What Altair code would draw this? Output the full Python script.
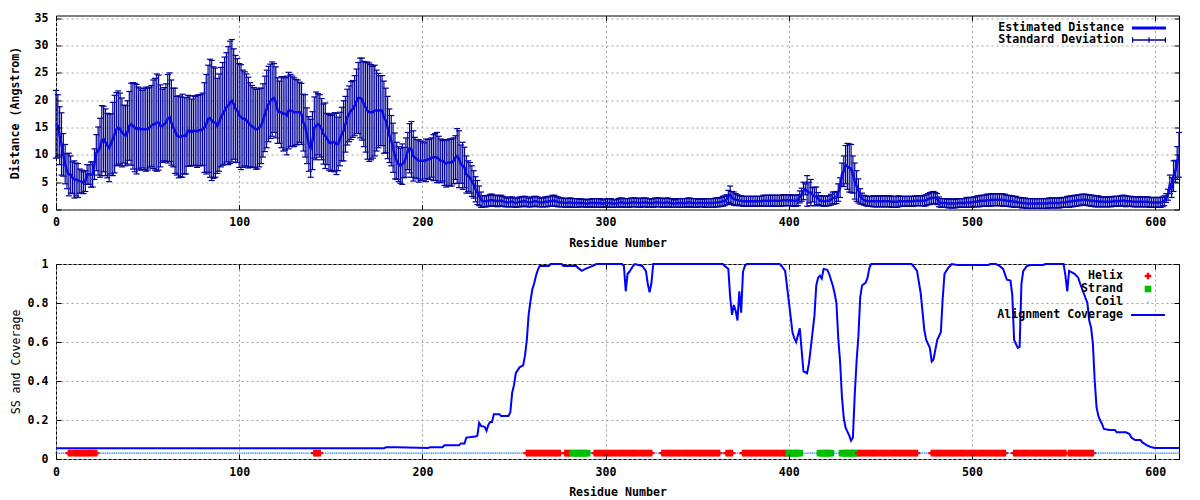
import altair as alt
import pandas as pd

# ---------------- data ----------------
residue = list(range(0, 614))

mean_distance = [
    15.6, 15.3, 13.5, 12.0, 10.0, 8.3, 7.0, 6.4, 6.4, 5.8,
    5.5, 5.5, 5.3, 5.2, 5.1, 4.9, 5.2, 6.4, 6.4, 6.4,
    6.4, 8.3, 10.4, 10.7, 11.3, 12.6, 12.9, 12.3, 11.7, 11.3,
    12.0, 12.9, 13.8, 14.7, 15.0, 14.7, 14.1, 13.8, 13.5, 14.1,
    15.3, 15.6, 15.3, 15.0, 14.7, 14.9, 14.7, 14.7, 14.7, 14.7,
    14.7, 15.0, 15.3, 15.6, 15.6, 15.9, 15.9, 15.3, 15.3, 15.6,
    15.9, 16.6, 16.9, 15.9, 15.0, 14.4, 13.5, 13.3, 13.3, 13.5,
    13.5, 13.5, 14.4, 14.4, 14.1, 14.4, 14.4, 14.3, 14.5, 14.5,
    14.7, 15.0, 15.6, 16.6, 16.7, 16.3, 15.9, 15.9, 15.3, 15.9,
    16.9, 17.5, 18.1, 18.7, 19.0, 19.6, 19.9, 19.3, 18.4, 18.1,
    17.2, 16.9, 16.6, 16.6, 16.3, 15.9, 15.5, 15.2, 15.0, 14.7,
    14.7, 15.0, 15.3, 16.3, 17.5, 18.4, 19.3, 19.8, 20.2, 20.4,
    19.6, 18.1, 17.8, 17.8, 17.5, 17.5, 17.2, 18.1, 18.1, 18.0,
    17.8, 17.8, 17.8, 17.8, 17.5, 15.9, 15.3, 13.5, 12.0, 11.2,
    12.6, 15.0, 15.3, 15.6, 15.3, 14.7, 13.8, 13.5, 12.9, 12.3,
    12.1, 12.3, 12.3, 12.0, 12.0, 12.9, 13.8, 14.4, 15.6, 16.9,
    17.5, 18.1, 18.4, 19.0, 19.8, 20.4, 20.4, 20.2, 19.3, 18.7,
    18.1, 17.8, 17.8, 17.8, 18.1, 18.1, 18.1, 18.1, 18.1, 16.9,
    16.3, 15.0, 13.5, 12.6, 11.3, 9.8, 8.9, 8.3, 8.0, 8.3,
    8.6, 9.5, 10.7, 11.2, 11.0, 9.8, 9.5, 9.2, 8.9, 8.9,
    8.9, 8.9, 9.0, 9.2, 9.2, 9.5, 9.5, 9.6, 9.5, 9.2,
    8.9, 8.9, 8.6, 8.4, 8.6, 8.6, 8.6, 8.9, 9.5, 9.8,
    9.2, 8.3, 8.0, 7.7, 6.4, 6.1, 5.8, 5.2, 4.6, 3.7,
    3.1, 2.5, 1.8, 1.5, 1.5,
    1.5, 1.6, 1.7, 1.7, 1.6, 1.6, 1.5, 1.6, 1.6, 1.5,
    1.4, 1.3, 1.3, 1.4, 1.4, 1.3, 1.2, 1.3, 1.4, 1.4,
    1.5, 1.5, 1.4, 1.3, 1.3, 1.4, 1.5, 1.5, 1.4, 1.3,
    1.3, 1.3, 1.4, 1.4, 1.5, 1.5, 1.6, 1.6, 1.5, 1.4,
    1.3, 1.3, 1.3, 1.2, 1.2, 1.3, 1.3, 1.2, 1.2, 1.2,
    1.2, 1.2, 1.2, 1.2, 1.1, 1.1, 1.2, 1.2, 1.2, 1.2,
    1.2, 1.2, 1.2, 1.1, 1.1, 1.2, 1.2, 1.2, 1.2, 1.1,
    1.1, 1.1, 1.2, 1.3, 1.3, 1.2, 1.2, 1.2, 1.2, 1.3,
    1.3, 1.3, 1.3, 1.2, 1.2, 1.3, 1.3, 1.3, 1.2, 1.2,
    1.2, 1.2, 1.3, 1.3, 1.3, 1.3, 1.2, 1.2, 1.3, 1.3,
    1.2, 1.2, 1.1, 1.1, 1.2, 1.2, 1.2, 1.2, 1.2, 1.2,
    1.3, 1.3, 1.2, 1.2, 1.2, 1.2, 1.2, 1.2, 1.2, 1.2,
    1.2, 1.2, 1.2, 1.2, 1.2, 1.3, 1.3, 1.3, 1.4, 1.5,
    1.6, 1.8, 2.4, 2.7, 2.1, 2.0, 1.8, 1.8, 1.6, 1.6,
    1.5, 1.5, 1.5, 1.5, 1.5, 1.5, 1.5, 1.5, 1.5, 1.5,
    1.5, 1.6, 1.6, 1.6, 1.6, 1.6, 1.6, 1.6, 1.6, 1.6,
    1.6, 1.6, 1.7, 1.7, 1.7, 1.7, 1.7, 1.6, 1.6, 1.6,
    1.7, 2.3, 2.7, 3.4, 3.7, 3.4, 3.1, 3.1, 2.7, 2.4,
    2.4, 2.0, 1.6, 1.6, 1.5, 1.5, 1.6, 1.6, 1.8, 2.1,
    2.1, 2.2, 3.1, 4.0, 6.4, 7.0, 8.2, 7.9, 7.6, 7.5,
    6.4, 5.2, 4.3, 3.4, 2.4, 2.0, 1.7, 1.6, 1.5, 1.5,
    1.5, 1.5, 1.5, 1.5, 1.5, 1.5, 1.5, 1.5, 1.5, 1.5,
    1.5, 1.4, 1.4, 1.4, 1.4, 1.5, 1.5, 1.5, 1.5, 1.5,
    1.5, 1.5, 1.5, 1.5, 1.6, 1.6, 1.6, 1.6, 1.6, 1.6,
    1.7, 1.9, 2.0, 2.1, 2.2, 2.1, 1.9, 1.4, 1.2, 1.2,
    1.2, 1.2, 1.1, 1.1, 1.1, 1.1, 1.1, 1.2, 1.2, 1.2,
    1.2, 1.2, 1.3, 1.3, 1.3, 1.3, 1.4, 1.4, 1.5, 1.5,
    1.6, 1.6, 1.6, 1.7, 1.7, 1.7, 1.8, 1.8, 1.8, 1.8,
    1.8, 1.8, 1.7, 1.7, 1.6, 1.6, 1.5, 1.5, 1.4, 1.4,
    1.3, 1.3, 1.2, 1.2, 1.2, 1.1, 1.1, 1.1, 1.1, 1.1,
    1.1, 1.1, 1.1, 1.1, 1.1, 1.1, 1.1, 1.2, 1.2, 1.2,
    1.2, 1.2, 1.2, 1.2, 1.3, 1.3, 1.3, 1.4, 1.4, 1.5,
    1.5, 1.6, 1.6, 1.7, 1.7, 1.8, 1.8, 1.8, 1.7, 1.7,
    1.6, 1.6, 1.5, 1.5, 1.5, 1.4, 1.4, 1.4, 1.4, 1.4,
    1.4, 1.4, 1.5, 1.5, 1.5, 1.5, 1.6, 1.6, 1.6, 1.5,
    1.5, 1.5, 1.5, 1.4, 1.4, 1.4, 1.4, 1.4, 1.4, 1.4,
    1.4, 1.4, 1.3, 1.3, 1.3, 1.3, 1.3, 1.3, 1.3, 1.4,
    1.6, 2.1, 2.7, 4.6, 4.0, 6.1, 7.0, 8.5, 10.0,
]

std_deviation = [
    6.2, 5.7, 5.3, 5.7, 3.9, 3.6, 3.2, 3.9, 3.4, 2.9,
    3.4, 3.0, 3.1, 2.2, 2.1, 2.0, 1.9, 1.8, 1.8, 2.3,
    2.3, 2.8, 3.3, 4.4, 5.4, 6.4, 6.0, 6.1, 5.9, 6.2,
    5.5, 6.7, 7.1, 6.7, 6.7, 6.6, 6.3, 5.3, 5.5, 5.8,
    6.3, 7.5, 7.9, 8.1, 8.2, 7.5, 7.5, 7.1, 7.4, 7.7,
    7.5, 7.4, 7.4, 8.1, 8.4, 8.9, 8.7, 7.5, 6.7, 6.7,
    7.1, 8.1, 8.1, 7.8, 7.2, 7.8, 7.2, 7.5, 7.3, 7.6,
    7.0, 7.0, 6.5, 6.4, 6.1, 6.4, 6.3, 6.6, 6.5, 6.5,
    6.6, 8.2, 9.1, 9.8, 10.8, 11.0, 10.2, 10.0, 8.7, 8.9,
    9.1, 9.4, 9.8, 10.0, 10.8, 11.2, 11.2, 10.1, 9.8, 9.5,
    9.5, 9.6, 8.9, 8.6, 8.5, 8.3, 7.7, 7.5, 7.3, 7.3,
    7.3, 7.2, 6.9, 6.7, 6.9, 7.1, 6.9, 6.8, 6.8, 6.3,
    6.5, 6.0, 5.7, 6.5, 6.8, 6.6, 7.2, 7.0, 6.6, 6.4,
    6.3, 6.0, 5.9, 5.5, 5.6, 5.2, 5.7, 5.1, 5.0, 5.3,
    5.3, 5.6, 6.2, 5.6, 5.7, 5.6, 5.5, 6.0, 4.7, 5.1,
    5.1, 5.2, 5.4, 5.6, 4.9, 4.9, 4.9, 5.5, 5.1, 5.1,
    5.1, 5.3, 5.2, 5.5, 5.9, 6.5, 7.3, 7.5, 7.8, 8.2,
    8.9, 9.0, 8.7, 8.4, 8.3, 7.4, 6.8, 6.4, 6.4, 6.6,
    5.9, 5.7, 4.9, 4.6, 4.5, 4.2, 3.4, 3.2, 3.2, 3.7,
    2.8, 3.6, 3.4, 4.5, 5.1, 4.6, 3.7, 3.6, 3.9, 3.6,
    3.6, 3.3, 3.9, 3.6, 3.7, 3.6, 4.2, 4.3, 4.6, 4.2,
    4.0, 3.7, 4.2, 4.3, 4.2, 4.3, 4.3, 4.2, 4.0, 5.0,
    5.2, 3.5, 4.3, 3.7, 3.4, 2.8, 2.8, 2.8, 2.5, 2.3,
    2.2, 1.8, 1.4, 1.0, 1.05,
    1.0, 1.0, 1.1, 1.1, 1.0, 1.0, 1.0, 1.0, 1.0, 0.9,
    0.9, 0.8, 0.8, 0.9, 0.9, 0.8, 0.8, 0.8, 0.9, 0.9,
    0.9, 0.9, 0.9, 0.8, 0.8, 0.9, 0.9, 0.9, 0.9, 0.8,
    0.8, 0.8, 0.9, 0.9, 0.9, 0.9, 1.0, 1.0, 0.9, 0.9,
    0.8, 0.8, 0.8, 0.8, 0.8, 0.8, 0.8, 0.8, 0.8, 0.8,
    0.8, 0.7, 0.7, 0.7, 0.7, 0.7, 0.7, 0.7, 0.8, 0.8,
    0.8, 0.8, 0.8, 0.7, 0.7, 0.7, 0.8, 0.8, 0.8, 0.7,
    0.7, 0.7, 0.8, 0.8, 0.8, 0.8, 0.8, 0.8, 0.8, 0.8,
    0.8, 0.8, 0.8, 0.8, 0.8, 0.8, 0.8, 0.8, 0.8, 0.8,
    0.7, 0.8, 0.8, 0.8, 0.8, 0.8, 0.8, 0.8, 0.8, 0.8,
    0.8, 0.8, 0.7, 0.7, 0.8, 0.8, 0.8, 0.8, 0.8, 0.8,
    0.8, 0.8, 0.8, 0.8, 0.8, 0.8, 0.7, 0.7, 0.7, 0.8,
    0.8, 0.8, 0.8, 0.8, 0.8, 0.8, 0.8, 0.8, 0.8, 0.9,
    0.9, 0.9, 1.1, 1.6, 1.2, 1.2, 1.1, 0.9, 0.9, 0.9,
    0.9, 0.9, 0.9, 0.9, 0.9, 0.9, 0.9, 0.9, 0.9, 0.9,
    0.9, 1.0, 1.0, 1.0, 1.0, 1.0, 1.0, 1.0, 1.0, 1.0,
    1.0, 1.0, 1.0, 1.0, 1.0, 1.0, 1.0, 1.0, 1.0, 1.0,
    1.0, 1.1, 1.2, 1.6, 1.0, 2.8, 1.9, 2.4, 1.3, 1.7,
    1.7, 1.1, 0.9, 0.9, 0.9, 0.9, 0.9, 0.9, 1.0, 1.1,
    1.1, 1.1, 1.6, 1.8, 2.1, 2.8, 3.5, 4.2, 4.4, 4.4,
    3.4, 3.3, 2.8, 2.2, 1.4, 1.0, 0.9, 0.9, 0.9, 0.9,
    0.9, 1.0, 1.0, 1.0, 1.0, 1.0, 1.0, 1.0, 1.0, 1.0,
    1.0, 1.0, 1.0, 1.0, 1.0, 1.0, 0.9, 0.9, 0.9, 0.9,
    0.9, 0.9, 0.9, 0.9, 0.9, 0.9, 0.9, 0.9, 0.9, 1.0,
    1.0, 1.0, 1.1, 1.1, 1.1, 1.0, 1.0, 0.9, 0.8, 0.8,
    0.8, 0.8, 0.8, 0.8, 0.8, 0.8, 0.8, 0.8, 0.8, 0.8,
    0.8, 0.8, 0.9, 0.9, 0.9, 0.9, 0.9, 0.9, 1.0, 1.0,
    1.0, 1.0, 1.0, 1.1, 1.1, 1.1, 1.1, 1.1, 1.1, 1.1,
    1.1, 1.1, 1.1, 1.1, 1.0, 1.0, 1.0, 1.0, 1.0, 1.0,
    0.9, 0.9, 0.9, 0.9, 0.9, 0.9, 0.9, 0.9, 0.9, 0.9,
    0.9, 0.9, 0.9, 0.9, 0.9, 0.9, 0.9, 0.9, 0.9, 0.9,
    0.9, 0.9, 0.9, 0.9, 0.9, 0.9, 0.9, 1.0, 1.0, 1.0,
    1.0, 1.0, 1.0, 1.0, 1.0, 1.0, 1.0, 1.0, 1.0, 1.0,
    1.0, 1.0, 1.0, 1.0, 1.0, 0.9, 0.9, 0.9, 0.9, 0.9,
    0.9, 0.9, 0.9, 0.9, 0.9, 0.9, 0.9, 1.0, 1.0, 1.0,
    0.9, 0.9, 0.9, 0.9, 0.9, 0.9, 0.9, 0.9, 0.9, 0.9,
    0.9, 0.9, 0.9, 0.9, 0.9, 0.9, 0.9, 0.9, 0.9, 0.9,
    0.9, 0.8, 1.0, 1.7, 1.8, 2.8, 2.0, 3.0, 4.1,
]

# alignment coverage: (residue, coverage)
coverage_points = [
    (0, 0.055), (179, 0.055), (180, 0.06), (186, 0.06), (203, 0.056), (204, 0.06),
    (211, 0.06), (212, 0.07), (220, 0.07), (221, 0.08), (223, 0.08), (224, 0.11),
    (229, 0.115), (230, 0.12), (231, 0.185), (232, 0.17), (234, 0.165), (235, 0.145),
    (236, 0.175), (237, 0.19), (238, 0.19), (239, 0.23), (242, 0.23), (243, 0.22),
    (247, 0.22), (248, 0.24), (249, 0.34), (250, 0.38), (251, 0.44), (253, 0.47),
    (255, 0.48), (256, 0.53), (257, 0.61), (258, 0.74), (259, 0.81), (260, 0.87),
    (261, 0.9), (262, 0.94), (263, 0.97), (264, 0.99), (269, 0.99), (270, 1.0),
    (276, 1.0), (277, 0.99), (284, 0.99), (285, 0.98), (287, 0.965), (289, 0.975),
    (293, 0.99), (295, 1.0), (309, 1.0), (310, 0.99), (311, 0.86), (312, 0.95),
    (313, 0.96), (315, 0.99), (316, 1.0), (320, 0.99), (322, 0.965), (323, 0.9),
    (324, 0.855), (325, 0.9), (326, 1.0), (364, 1.0), (365, 0.99), (367, 0.975),
    (368, 0.83), (369, 0.74), (370, 0.79), (371, 0.76), (372, 0.71), (373, 0.86),
    (374, 0.75), (375, 0.96), (376, 0.99), (377, 1.0), (395, 1.0), (396, 0.99),
    (398, 0.965), (400, 0.81), (401, 0.73), (402, 0.65), (403, 0.62), (404, 0.6),
    (406, 0.67), (407, 0.56), (408, 0.45), (410, 0.44), (411, 0.49), (412, 0.57),
    (414, 0.735), (415, 0.89), (416, 0.93), (417, 0.94), (418, 0.925), (419, 0.975),
    (421, 0.97), (422, 0.95), (424, 0.89), (425, 0.85), (426, 0.8), (427, 0.62),
    (428, 0.5), (429, 0.32), (430, 0.21), (431, 0.16), (433, 0.12), (434, 0.094),
    (435, 0.11), (436, 0.33), (437, 0.5), (438, 0.63), (439, 0.83), (440, 0.89),
    (442, 0.905), (443, 0.93), (444, 0.98), (445, 1.0), (467, 1.0), (468, 0.99),
    (470, 0.965), (472, 0.85), (474, 0.66), (475, 0.61), (477, 0.57), (478, 0.5),
    (479, 0.51), (480, 0.56), (481, 0.61), (483, 0.65), (484, 0.82), (485, 0.95),
    (487, 0.98), (489, 1.0), (492, 0.995), (509, 0.995), (510, 1.0), (513, 1.0),
    (515, 0.99), (517, 0.975), (519, 0.92), (521, 0.915), (522, 0.84), (523, 0.61),
    (525, 0.57), (526, 0.575), (527, 0.9), (528, 0.965), (530, 0.99), (532, 0.995),
    (539, 0.995), (540, 1.0), (550, 1.0), (551, 0.94), (552, 0.86), (553, 0.965),
    (554, 0.96), (556, 0.95), (558, 0.93), (559, 0.9), (561, 0.85), (563, 0.8),
    (564, 0.71), (565, 0.675), (566, 0.59), (567, 0.4), (568, 0.265), (569, 0.22),
    (570, 0.197), (571, 0.18), (572, 0.154), (575, 0.149), (578, 0.149), (579, 0.137),
    (584, 0.137), (586, 0.128), (587, 0.11), (589, 0.097), (592, 0.097), (593, 0.085),
    (596, 0.068), (598, 0.06), (600, 0.056), (613, 0.056),
]

# secondary structure runs (type, first residue, last residue); Coil elsewhere
ss_segments = [
    ("Helix", 7, 22), ("Helix", 141, 144), ("Helix", 257, 275), ("Helix", 278, 281),
    ("Strand", 282, 290), ("Helix", 294, 325), ("Helix", 331, 362), ("Helix", 366, 369),
    ("Helix", 375, 399), ("Strand", 400, 406), ("Strand", 417, 423), ("Strand", 429, 437),
    ("Helix", 438, 470), ("Helix", 478, 518), ("Helix", 523, 551), ("Helix", 553, 566),
]
ss_level = 0.03

top_series = ["Estimated Distance", "Standard Deviation"]
ss_kinds = ["Helix", "Strand", "Coil"]
bottom_series = ["Helix", "Strand", "Coil", "Alignment Coverage"]
x_ticks = [0, 100, 200, 300, 400, 500, 600]
y_ticks_top = [0, 5, 10, 15, 20, 25, 30, 35]
y_ticks_bottom = [0, 0.2, 0.4, 0.6, 0.8, 1]

# ---------------- styling ----------------
FONT = "DejaVu Sans Mono"
FS = 11.6
NAVY = "#00009a"
MEANBLUE = "#0a0ae8"
BLUE = "#0000ff"
RED = "#ff0000"
GREEN = "#00c000"
COILBLUE = "#0080ff"
W = 1123
SYM = 144  # symbol area -> 12 px box, 1 path unit = 6 px

# marks drawn in the plot (centred glyphs)
P_HELIX = ("M-0.2,-0.55L0.2,-0.55L0.2,-0.2L0.55,-0.2L0.55,0.2L0.2,0.2"
           "L0.2,0.55L-0.2,0.55L-0.2,0.2L-0.55,0.2L-0.55,-0.2L-0.2,-0.2Z")
P_STRAND = "M-0.55,-0.55L0.55,-0.55L0.55,0.55L-0.55,0.55Z"
P_COIL = "M-0.1,-0.1L0.1,-0.1L0.1,0.1L-0.1,0.1Z"

# legend glyphs, drawn to the right of their (right-aligned) labels
L_MEAN = "M2.333,-0.25L8,-0.25L8,0.25L2.333,0.25Z"
L_ERR = ("M2.333,-0.11L8,-0.11L8,0.11L2.333,0.11Z "
         "M2.333,-0.47L2.533,-0.47L2.533,0.47L2.333,0.47Z "
         "M7.8,-0.47L8,-0.47L8,0.47L7.8,0.47Z "
         "M5.067,-0.47L5.267,-0.47L5.267,0.47L5.067,0.47Z")
L_HELIX = ("M4.967,-0.55L5.367,-0.55L5.367,-0.2L5.717,-0.2L5.717,0.2L5.367,0.2"
           "L5.367,0.55L4.967,0.55L4.967,0.2L4.617,0.2L4.617,-0.2L4.967,-0.2Z")
L_STRAND = "M4.617,-0.55L5.717,-0.55L5.717,0.55L4.617,0.55Z"
L_COIL = "M5.067,-0.1L5.267,-0.1L5.267,0.1L5.067,0.1Z"
L_LINE = "M2.333,-0.18L8,-0.18L8,0.18L2.333,0.18Z"


def main_axis(orient, title, values, fmt=None, title_pad=9, weight="bold",
              label_pad=7):
    kw = dict(orient=orient, title=title, values=values, grid=True,
              gridColor="#a0a0a0", gridDash=[2, 3], gridWidth=1,
              ticks=False, tickSize=0, domain=False, labelPadding=label_pad,
              labelFont=FONT, labelFontSize=FS, labelFontWeight="bold",
              labelColor="black", labelFlush=False, labelOverlap=False,
              titleFont=FONT, titleFontSize=FS, titleFontWeight=weight,
              titleColor="black", titlePadding=title_pad, minExtent=0)
    if fmt:
        kw["format"] = fmt
    return alt.Axis(**kw)


def tick_axis(orient, values):
    return alt.Axis(orient=orient, values=values, labels=False, domain=False,
                    grid=False, ticks=True, tickSize=5, tickColor="black",
                    tickWidth=1, offset=-5, title=None, zindex=1,
                    minExtent=0, maxExtent=0)


def legend(x, y, row_pad):
    return alt.Legend(orient="none", legendX=x, legendY=y, title=None,
                      labelAlign="right", labelOffset=0, symbolOffset=130,
                      labelFont=FONT, labelFontSize=FS, labelFontWeight="bold",
                      labelColor="black", symbolSize=SYM, symbolStrokeWidth=0,
                      symbolOpacity=1, rowPadding=row_pad, padding=0)


XS = alt.Scale(domain=[0, 613], nice=False, zero=False)
YT = alt.Scale(domain=[0, 35.5], nice=False, zero=False)
YB = alt.Scale(domain=[0, 1], nice=False, zero=False)

# ---------------- top panel ----------------
dist_df = pd.DataFrame({"res": residue, "mean": mean_distance, "sd": std_deviation})
base = alt.Chart(dist_df).transform_calculate(
    lo="datum.mean - datum.sd", hi="datum.mean + datum.sd")

bars = base.mark_rule(color=NAVY, strokeWidth=1.2).encode(
    x=alt.X("res:Q", scale=XS, axis=main_axis("bottom", "Residue Number", x_ticks)),
    y=alt.Y("lo:Q", scale=YT,
            axis=main_axis("left", "Distance (Angstrom)", y_ticks_top,
                           title_pad=14, label_pad=8)),
    y2="hi:Q",
)
cap_hi = base.mark_tick(orient="horizontal", color=NAVY, size=6, thickness=1.2,
                        opacity=1).encode(
    x=alt.X("res:Q", scale=XS, axis=tick_axis("bottom", x_ticks)),
    y=alt.Y("hi:Q", scale=YT, axis=tick_axis("left", y_ticks_top)),
)
cap_lo = base.mark_tick(orient="horizontal", color=NAVY, size=6, thickness=1.2,
                        opacity=1).encode(
    x=alt.X("res:Q", scale=XS, axis=tick_axis("top", x_ticks)),
    y=alt.Y("lo:Q", scale=YT, axis=tick_axis("right", y_ticks_top)),
)
mean_line = base.mark_line(color=MEANBLUE, strokeWidth=2.5).encode(
    x=alt.X("res:Q", scale=XS, axis=None),
    y=alt.Y("mean:Q", scale=YT, axis=None),
)
leg_top = legend(926, 6.5, 0)
legend_top = alt.Chart(pd.DataFrame({"series": top_series})).transform_filter(
    "false").mark_point(filled=True, size=SYM, strokeWidth=0, opacity=1).encode(
    color=alt.Color("series:N", scale=alt.Scale(domain=top_series, range=[BLUE, NAVY]),
                    legend=leg_top),
    shape=alt.Shape("series:N", scale=alt.Scale(domain=top_series, range=[L_MEAN, L_ERR]),
                    legend=leg_top),
)
top = alt.layer(bars, cap_hi, cap_lo, mean_line, legend_top).resolve_axis(
    x="independent", y="independent").properties(width=W, height=194)

# ---------------- bottom panel ----------------
ss_type = ["Coil"] * len(residue)
for name, first, last in ss_segments:
    for r in range(first, last + 1):
        ss_type[r] = name
ss_df = pd.DataFrame({"res": residue, "type": ss_type, "level": [ss_level] * len(residue)})
cov_df = pd.DataFrame(coverage_points, columns=["res", "cov"])

ss_points = alt.Chart(ss_df).mark_point(filled=True, size=SYM, strokeWidth=0,
                                        opacity=1).encode(
    x=alt.X("res:Q", scale=XS, axis=main_axis("bottom", "Residue Number", x_ticks)),
    y=alt.Y("level:Q", scale=YB,
            axis=main_axis("left", "SS and Coverage", y_ticks_bottom, fmt="~g",
                           title_pad=6, weight="normal", label_pad=8)),
    color=alt.Color("type:N", scale=alt.Scale(domain=ss_kinds,
                                              range=[RED, GREEN, COILBLUE]),
                    legend=None),
    shape=alt.Shape("type:N", scale=alt.Scale(domain=ss_kinds,
                                              range=[P_HELIX, P_STRAND, P_COIL]),
                    legend=None),
)
cov_line = alt.Chart(cov_df).mark_line(color=BLUE, strokeWidth=2).encode(
    x=alt.X("res:Q", scale=XS, axis=tick_axis("bottom", x_ticks)),
    y=alt.Y("cov:Q", scale=YB, axis=tick_axis("left", y_ticks_bottom)),
)
mirror = alt.Chart(cov_df).transform_filter("false").mark_point(opacity=0).encode(
    x=alt.X("res:Q", scale=XS, axis=tick_axis("top", x_ticks)),
    y=alt.Y("cov:Q", scale=YB, axis=tick_axis("right", y_ticks_bottom)),
)
leg_bot = legend(925, 6, 1)
legend_bottom = alt.Chart(pd.DataFrame({"series": bottom_series})).transform_filter(
    "false").mark_point(filled=True, size=SYM, strokeWidth=0, opacity=1).encode(
    color=alt.Color("series:N", scale=alt.Scale(domain=bottom_series,
                                                range=[RED, GREEN, COILBLUE, BLUE]),
                    legend=leg_bot),
    shape=alt.Shape("series:N", scale=alt.Scale(domain=bottom_series,
                                                range=[L_HELIX, L_STRAND, L_COIL, L_LINE]),
                    legend=leg_bot),
)
bottom = alt.layer(ss_points, cov_line, mirror, legend_bottom).resolve_axis(
    x="independent", y="independent"
).resolve_scale(color="independent", shape="independent").properties(width=W, height=195)

chart = alt.vconcat(top, bottom, spacing=7.5).resolve_scale(
    color="independent", shape="independent"
).resolve_legend(
    color="independent", shape="independent"
).properties(
    padding={"left": 0, "top": 3.5, "right": 5, "bottom": 5},
    background="white",
).configure_view(stroke="black", strokeWidth=1)

chart.save("out.html", embed_options={"renderer": "svg", "actions": False})
